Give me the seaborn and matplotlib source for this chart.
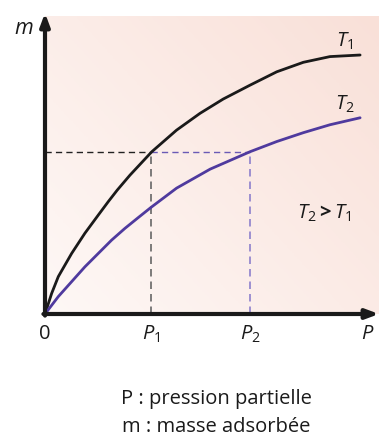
import numpy as np
import pandas as pd
import matplotlib
matplotlib.use("Agg")
import matplotlib.pyplot as plt
import seaborn as sns
from matplotlib.colors import LinearSegmentedColormap

# Data (arbitrary units)
p_t1 = [0, 0.21, 0.42, 0.84, 1.26, 1.68, 2.00, 2.28, 2.68, 3.37, 4.15, 4.89,
        5.62, 6.47, 7.31, 8.15, 8.99, 9.94]
m_t1 = [0, 0.65, 1.18, 1.91, 2.55, 3.12, 3.55, 3.91, 4.38, 5.12, 5.80, 6.33,
        6.78, 7.22, 7.64, 7.94, 8.12, 8.17]
p_t2 = [0, 0.42, 0.84, 1.26, 1.68, 2.10, 2.52, 2.94, 3.34, 4.15, 5.21, 6.47,
        7.31, 8.15, 8.99, 9.94]
m_t2 = [0, 0.55, 1.02, 1.49, 1.91, 2.33, 2.70, 3.04, 3.36, 3.97, 4.57, 5.12,
        5.44, 5.72, 5.97, 6.19]
p1, p2, m_level = 3.34, 6.47, 5.12
tick_labels = ["0", "$P_1$", "$P_2$", "$P$"]
p_axis = 10.19
series_names = ["$T_1$", "$T_2$"]

sns.set_style("white")
plt.rcParams["font.family"] = ["Open Sans", "DejaVu Sans"]
plt.rcParams["mathtext.fontset"] = "custom"
plt.rcParams["mathtext.rm"] = "Open Sans"
plt.rcParams["mathtext.it"] = "Open Sans:italic"
plt.rcParams["mathtext.bf"] = "Open Sans:bold"

W, H = 379, 436
fig = plt.figure(figsize=(W / 100, H / 100), dpi=100)
ox, oy = 45, 314
scale = 31.7
xmax = (W - ox) / scale
ymax = (oy - 13) / scale
ax = fig.add_axes([ox / W, (H - oy) / H, (W - ox) / W, (oy - 13) / H])
ax.set_xlim(0, xmax)
ax.set_ylim(0, ymax)
for s in ax.spines.values():
    s.set_visible(False)

# background gradient
cmap = LinearSegmentedColormap.from_list("bg", ["#fef8f6", "#f9e0d8"])
gx, gy = np.meshgrid(np.linspace(0, 1, 200), np.linspace(0, 1, 200))
grad = (gx * 0.55 + gy * 0.45)
ax.imshow(grad, extent=[0, xmax, 0, (oy - 17) / scale], origin="lower",
          cmap=cmap, aspect="auto", zorder=0)

df = pd.concat([
    pd.DataFrame({"P": p_t1, "m": m_t1, "T": series_names[0]}),
    pd.DataFrame({"P": p_t2, "m": m_t2, "T": series_names[1]}),
])
sns.lineplot(data=df, x="P", y="m", hue="T", palette=["#1a1a1a", "#4f3a9e"],
             linewidth=2.0, legend=False, ax=ax, zorder=3, sort=False,
             estimator=None)
for ln in ax.get_lines():
    ln.set_solid_joinstyle("round")
    ln.set_solid_capstyle("round")

dash = (0, (4.5, 3))
ax.plot([0, p1], [m_level, m_level], color="#222222", lw=1.0, linestyle=dash, zorder=2)
ax.plot([p1, p2], [m_level, m_level], color="#6a5ab5", lw=1.0, linestyle=dash, zorder=2)
ax.plot([p1, p1], [0, m_level], color="#666666", lw=1.2, linestyle=dash, zorder=2)
ax.plot([p2, p2], [0, m_level], color="#8d80cc", lw=1.2, linestyle=dash, zorder=2)

# axes arrows
arrow_kw = dict(arrowstyle="-|>,head_length=0.75,head_width=0.28", color="#1a1a1a",
                lw=3.0, shrinkA=0, shrinkB=0)
ax.annotate("", xy=(0, ymax), xytext=(0, -0.05), arrowprops=arrow_kw,
            annotation_clip=False, zorder=5)
ax.annotate("", xy=(xmax, 0), xytext=(-0.05, 0), arrowprops=arrow_kw,
            annotation_clip=False, zorder=5)

ax.set_xticks([0, p1, p2, p_axis])
ax.set_xticklabels(tick_labels, fontsize=14.5, color="#1a1a1a")
ax.tick_params(axis="x", length=0, pad=7)
ax.set_yticks([])
ax.set_xlabel("")
ax.set_ylabel("")

ax.text(-0.66, 9.02, "$m$", fontsize=15.5, ha="center", va="center", color="#1a1a1a")
ax.text(9.45, 8.6, series_names[0], fontsize=14.5, ha="center", va="center", color="#1a1a1a")
ax.text(9.45, 6.6, series_names[1], fontsize=14.5, ha="center", va="center", color="#1a1a1a")
ax.text(8.8, 3.19, r"$T_2\mathbf{>}T_1$", fontsize=14.5, ha="center", va="center",
        color="#1a1a1a")

fig.text(216 / W, 1 - 399 / H, "P : pression partielle", fontsize=14.5,
         ha="center", va="center", color="#1a1a1a")
fig.text(216 / W, 1 - 427 / H, "m : masse adsorbée", fontsize=14.5,
         ha="center", va="center", color="#1a1a1a")

fig.savefig("out.png", dpi=100, facecolor="white")
